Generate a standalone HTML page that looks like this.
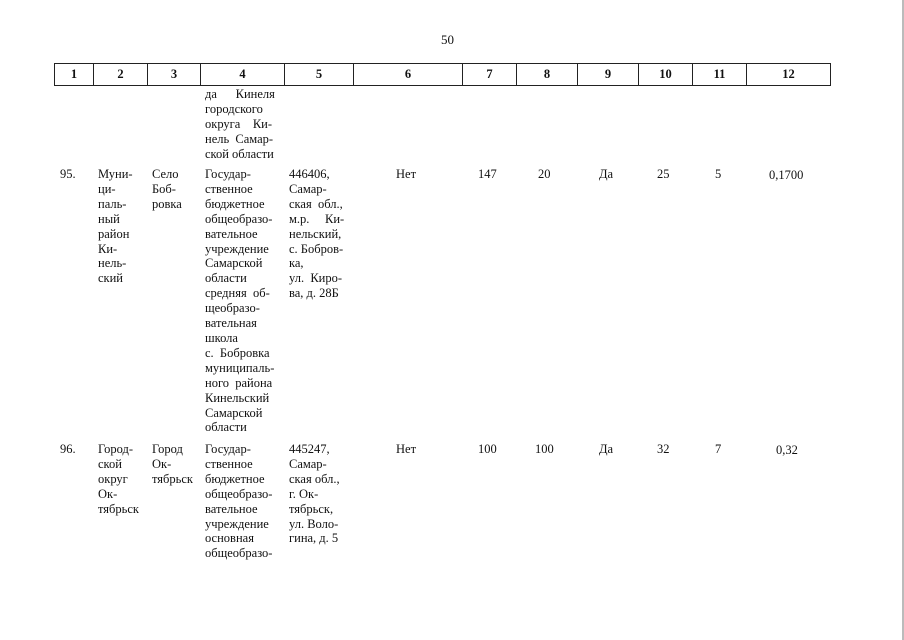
<!DOCTYPE html>
<html><head><meta charset="utf-8"><style>
body{margin:0;background:#fff;}
#p{position:relative;width:904px;height:640px;overflow:hidden;font-family:"Liberation Serif",serif;font-size:12.5px;color:#111;}
.t{position:absolute;line-height:14.9px;white-space:pre;}
.h{position:absolute;top:63px;height:23px;border:1px solid #222;border-right:none;box-sizing:border-box;font-weight:bold;text-align:center;line-height:21px;font-size:12.5px;}
</style></head><body><div id="p">
<div style="position:absolute;left:902px;top:0;width:2px;height:640px;background:#bbb"></div>
<div class="t" style="left:441px;top:33px;font-size:13px">50</div>
<div class="h" style="left:54px;width:39px">1</div>
<div class="h" style="left:93px;width:54px">2</div>
<div class="h" style="left:147px;width:53px">3</div>
<div class="h" style="left:200px;width:84px">4</div>
<div class="h" style="left:284px;width:69px">5</div>
<div class="h" style="left:353px;width:109px">6</div>
<div class="h" style="left:462px;width:54px">7</div>
<div class="h" style="left:516px;width:61px">8</div>
<div class="h" style="left:577px;width:61px">9</div>
<div class="h" style="left:638px;width:54px">10</div>
<div class="h" style="left:692px;width:54px">11</div>
<div class="h" style="left:746px;width:85px;border-right:1px solid #222">12</div>
<div class="t" style="left:205px;top:87px">да      Кинеля
городского
округа    Ки-
нель  Самар-
ской области</div>
<div class="t" style="left:60px;top:167px">95.</div>
<div class="t" style="left:98px;top:167px">Муни-
ци-
паль-
ный
район
Ки-
нель-
ский</div>
<div class="t" style="left:152px;top:167px">Село
Боб-
ровка</div>
<div class="t" style="left:205px;top:167px">Государ-
ственное
бюджетное
общеобразо-
вательное
учреждение
Самарской
области
средняя  об-
щеобразо-
вательная
школа
с.  Бобровка
муниципаль-
ного  района
Кинельский
Самарской
области</div>
<div class="t" style="left:289px;top:167px">446406,
Самар-
ская  обл.,
м.р.     Ки-
нельский,
с. Бобров-
ка,
ул.  Киро-
ва, д. 28Б</div>
<div class="t" style="left:396px;top:167px">Нет</div>
<div class="t" style="left:478px;top:167px">147</div>
<div class="t" style="left:538px;top:167px">20</div>
<div class="t" style="left:599px;top:167px">Да</div>
<div class="t" style="left:657px;top:167px">25</div>
<div class="t" style="left:715px;top:167px">5</div>
<div class="t" style="left:769px;top:168px">0,1700</div>
<div class="t" style="left:60px;top:442px">96.</div>
<div class="t" style="left:98px;top:442px">Город-
ской
округ
Ок-
тябрьск</div>
<div class="t" style="left:152px;top:442px">Город
Ок-
тябрьск</div>
<div class="t" style="left:205px;top:442px">Государ-
ственное
бюджетное
общеобразо-
вательное
учреждение
основная
общеобразо-</div>
<div class="t" style="left:289px;top:442px">445247,
Самар-
ская обл.,
г. Ок-
тябрьск,
ул. Воло-
гина, д. 5</div>
<div class="t" style="left:396px;top:442px">Нет</div>
<div class="t" style="left:478px;top:442px">100</div>
<div class="t" style="left:535px;top:442px">100</div>
<div class="t" style="left:599px;top:442px">Да</div>
<div class="t" style="left:657px;top:442px">32</div>
<div class="t" style="left:715px;top:442px">7</div>
<div class="t" style="left:776px;top:443px">0,32</div>
</div></body></html>
